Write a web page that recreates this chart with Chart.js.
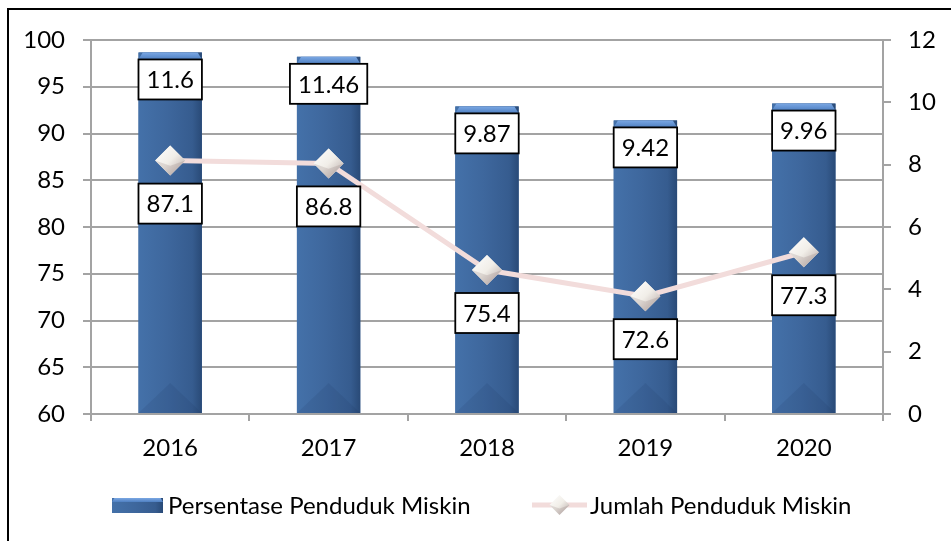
<!DOCTYPE html>
<html>
<head>
<meta charset="utf-8">
<script src="https://cdn.jsdelivr.net/npm/chart.js@4"></script>
<style>
  html, body { margin: 0; padding: 0; background: #fff; }
  #wrap { width: 951px; height: 541px; }
</style>
</head>
<body>
<div id="wrap"><canvas id="chart" width="951" height="541"></canvas></div>
<script>
const years = ["2016", "2017", "2018", "2019", "2020"];
const persentase = [11.6, 11.46, 9.87, 9.42, 9.96];
const jumlah = [87.1, 86.8, 75.4, 72.6, 77.3];
const leftRange = [60, 100];
const leftStep = 5;
const rightRange = [0, 12];
const rightStep = 2;
const seriesNames = ["Persentase Penduduk Miskin", "Jumlah Penduduk Miskin"];

const FONT = "Lato, Calibri, sans-serif";
const SIZE = 24;
const GRID = "#a3a3a3";

function labelBox(ctx, text, cx, top) {
  ctx.font = `${SIZE}px ${FONT}`;
  const w = ctx.measureText(text).width + 16;
  const h = 40;
  ctx.fillStyle = "#fff";
  ctx.fillRect(cx - w / 2, top, w, h);
  ctx.strokeStyle = "#000";
  ctx.lineWidth = 1.8;
  ctx.strokeRect(cx - w / 2, top, w, h);
  ctx.fillStyle = "#000";
  ctx.textAlign = "center";
  ctx.textBaseline = "middle";
  ctx.fillText(text, cx, top + h / 2 + 1);
}

function diamond(ctx, x, y, r) {
  const g = ctx.createLinearGradient(x - r, y - r, x + r, y + r);
  g.addColorStop(0, "#ffffff");
  g.addColorStop(0.5, "#f1eee8");
  g.addColorStop(1, "#b3a4a2");
  ctx.beginPath();
  ctx.moveTo(x, y - r);
  ctx.lineTo(x + r, y);
  ctx.lineTo(x, y + r);
  ctx.lineTo(x - r, y);
  ctx.closePath();
  ctx.fillStyle = g;
  ctx.fill();
  // lower facet a bit darker
  ctx.beginPath();
  ctx.moveTo(x - r, y);
  ctx.lineTo(x, y + r);
  ctx.lineTo(x + r, y);
  ctx.lineTo(x, y + r * 0.35);
  ctx.closePath();
  ctx.fillStyle = "rgba(120,100,100,0.18)";
  ctx.fill();
}

function bevelBar(ctx, left, right, top, bottom, cap, foot) {
  const w = right - left;
  const g = ctx.createLinearGradient(left, 0, right, 0);
  g.addColorStop(0, "#4471a9");
  g.addColorStop(0.45, "#3e679d");
  g.addColorStop(0.85, "#365c8f");
  g.addColorStop(1, "#294a77");
  ctx.fillStyle = g;
  ctx.fillRect(left, top, w, bottom - top);
  // top cap
  const cg = ctx.createLinearGradient(0, top, 0, top + cap);
  cg.addColorStop(0, "#7aa7e3");
  cg.addColorStop(1, "#4f80c2");
  ctx.beginPath();
  ctx.moveTo(left, top + cap);
  ctx.lineTo(left + cap * 0.6, top);
  ctx.lineTo(right - cap * 0.6, top);
  ctx.lineTo(right, top + cap);
  ctx.closePath();
  ctx.fillStyle = cg;
  ctx.fill();
  // bottom pyramid
  const cx = (left + right) / 2;
  ctx.beginPath();
  ctx.moveTo(left, bottom);
  ctx.lineTo(cx, bottom - foot);
  ctx.lineTo(right, bottom);
  ctx.closePath();
  ctx.fillStyle = "rgba(20,40,80,0.10)";
  ctx.fill();
}

const decorPlugin = {
  id: "decor",
  afterDatasetDraw(chart, args) {
    if (args.index !== 0) return;
    const ctx = chart.ctx;
    ctx.save();
    for (const el of args.meta.data) {
      bevelBar(ctx, el.x - el.width / 2, el.x + el.width / 2, el.y, el.base, 7, 30);
    }
    ctx.restore();
  },
  afterDatasetsDraw(chart) {
    const ctx = chart.ctx;
    ctx.save();
    const lineMeta = chart.getDatasetMeta(1);
    lineMeta.data.forEach((el) => diamond(ctx, el.x, el.y, 15));
    const barMeta = chart.getDatasetMeta(0);
    barMeta.data.forEach((el, i) => labelBox(ctx, String(persentase[i]), el.x, el.y + 7));
    lineMeta.data.forEach((el, i) => labelBox(ctx, String(jumlah[i]), el.x, el.y + 23));
    ctx.restore();
  },
  afterDraw(chart) {
    const ctx = chart.ctx;
    ctx.save();
    // outer frame (only left and top visible)
    ctx.strokeStyle = "#000";
    ctx.lineWidth = 2;
    ctx.beginPath();
    ctx.moveTo(8, 541);
    ctx.lineTo(8, 9);
    ctx.lineTo(951, 9);
    ctx.stroke();

    // legend
    const ly = 505;
    bevelBar(ctx, 112, 163, 498, 513, 4, 0);
    ctx.font = `${SIZE}px ${FONT}`;
    ctx.fillStyle = "#000";
    ctx.textAlign = "left";
    ctx.textBaseline = "middle";
    ctx.fillText(seriesNames[0], 168, ly + 1);

    ctx.strokeStyle = "#f2dcdb";
    ctx.lineWidth = 5;
    ctx.beginPath();
    ctx.moveTo(532, ly);
    ctx.lineTo(587, ly);
    ctx.stroke();
    diamond(ctx, 559.5, ly, 10);
    ctx.fillStyle = "#000";
    ctx.fillText(seriesNames[1], 590, ly + 1);
    ctx.restore();
  },
};

new Chart(document.getElementById("chart"), {
  data: {
    labels: years,
    datasets: [
      {
        type: "bar",
        label: seriesNames[0],
        data: persentase,
        yAxisID: "y1",
        backgroundColor: "#3d669c",
        barPercentage: 0.4,
        categoryPercentage: 1.0,
        order: 1,
      },
      {
        type: "line",
        label: seriesNames[1],
        data: jumlah,
        yAxisID: "y",
        borderColor: "#f2dcdb",
        borderWidth: 5,
        tension: 0,
        pointStyle: "rectRot",
        pointRadius: 15,
        pointBackgroundColor: "#f1eee8",
        pointBorderWidth: 0,
        order: 0,
      },
    ],
  },
  options: {
    responsive: false,
    animation: false,
    layout: { padding: { top: 40, left: 0, right: 0, bottom: 0 } },
    plugins: { legend: { display: false }, tooltip: { enabled: false } },
    scales: {
      x: {
        type: "category",
        offset: true,
        grid: { display: true, drawOnChartArea: false, drawTicks: true, tickLength: 7, color: GRID, lineWidth: 2, offset: true },
        border: { display: true, color: GRID, width: 2 },
        ticks: { color: "#000", font: { family: FONT, size: SIZE }, padding: 13 },
        afterFit(scale) { scale.height = 127; },
      },
      y: {
        position: "left",
        min: leftRange[0],
        max: leftRange[1],
        ticks: { stepSize: leftStep, color: "#000", font: { family: FONT, size: SIZE }, padding: 18 },
        grid: { color: GRID, lineWidth: 2, tickLength: 8 },
        border: { display: true, color: GRID, width: 2 },
        afterFit(scale) { scale.width = 91; },
      },
      y1: {
        position: "right",
        min: rightRange[0],
        max: rightRange[1],
        ticks: { stepSize: rightStep, color: "#000", font: { family: FONT, size: SIZE }, padding: 17 },
        grid: { drawOnChartArea: false, color: GRID, lineWidth: 2, tickLength: 8 },
        border: { display: true, color: GRID, width: 2 },
        afterFit(scale) { scale.width = 68; },
      },
    },
  },
  plugins: [decorPlugin],
});
</script>
</body>
</html>
